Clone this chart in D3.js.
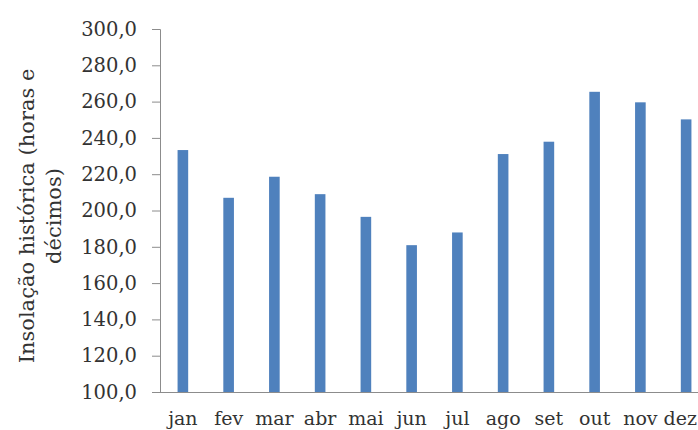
<!DOCTYPE html>
<meta charset="utf-8">
<script src="https://d3js.org/d3.v7.min.js"></script>
<style>
  body { margin: 0; background: #fff; }
  svg text { font-family: "DejaVu Serif", serif; fill: #333; }
</style>
<div id="my_dataviz"></div>
<script>

// data
var months = ["jan", "fev", "mar", "abr", "mai", "jun", "jul", "ago", "set", "out", "nov", "dez"];
var insolacao = [233.3, 207.0, 218.6, 209.0, 196.5, 180.9, 187.9, 231.1, 237.9, 265.4, 259.6, 250.2];
var yTicks = [100, 120, 140, 160, 180, 200, 220, 240, 260, 280, 300];

var W = 698, H = 430;
var plot = {left: 160, right: 709, top: 29, bottom: 392};
var serif = "'DejaVu Serif', serif";

var svg = d3.select("#my_dataviz")
  .append("svg")
    .attr("width", W)
    .attr("height", H);

// scales
var x = d3.scaleBand()
  .domain(months)
  .range([plot.left, plot.right])
  .paddingInner(0.768)
  .paddingOuter(0.384);

var y = d3.scaleLinear()
  .domain([100, 300])
  .range([plot.bottom, plot.top]);

// bars
svg.append("g")
  .selectAll("rect")
  .data(months)
  .enter()
  .append("rect")
    .attr("x", function(d) { return x(d); })
    .attr("y", function(d, i) { return y(insolacao[i]); })
    .attr("width", x.bandwidth())
    .attr("height", function(d, i) { return y(100) - y(insolacao[i]); })
    .style("fill", "#4f81bd");

// Y axis
var yAxis = svg.append("g")
  .attr("transform", "translate(" + plot.left + ",0)")
  .call(d3.axisLeft(y).tickValues(yTicks).tickSize(8).tickPadding(15)
        .tickFormat(function(d) { return d3.format(".1f")(d).replace(".", ","); }));
yAxis.attr("font-family", serif);
yAxis.select(".domain").attr("stroke", "#8c8c8c");
yAxis.selectAll(".tick line").attr("stroke", "#8c8c8c");
yAxis.selectAll(".tick text")
  .style("font-size", "19.5px")
  .attr("fill", "#333");

// X axis
var xAxis = svg.append("g")
  .attr("transform", "translate(0," + plot.bottom + ")")
  .call(d3.axisBottom(x).tickSize(0).tickPadding(20));
xAxis.attr("font-family", serif);
xAxis.select(".domain")
  .attr("stroke", "#8c8c8c")
  .attr("d", "M" + (plot.left - 8) + ",0.5H" + W);
xAxis.selectAll(".tick text")
  .style("font-size", "19px")
  .attr("fill", "#333");
// last label sits at the right edge; keep it inside the page
xAxis.selectAll(".tick text")
  .filter(function(d) { return d === "dez"; })
  .attr("text-anchor", "end")
  .attr("x", function(d) { return W - 1 - (x(d) + x.bandwidth() / 2); });

// Y axis label, two lines
var title = svg.append("text")
  .attr("transform", "translate(34,216) rotate(-90)")
  .attr("text-anchor", "middle")
  .style("font-size", "21px");
title.append("tspan").attr("x", 0).attr("dy", 0).text("Insolação histórica (horas e");
title.append("tspan").attr("x", 0).attr("dy", 27).text("décimos)");

</script>
